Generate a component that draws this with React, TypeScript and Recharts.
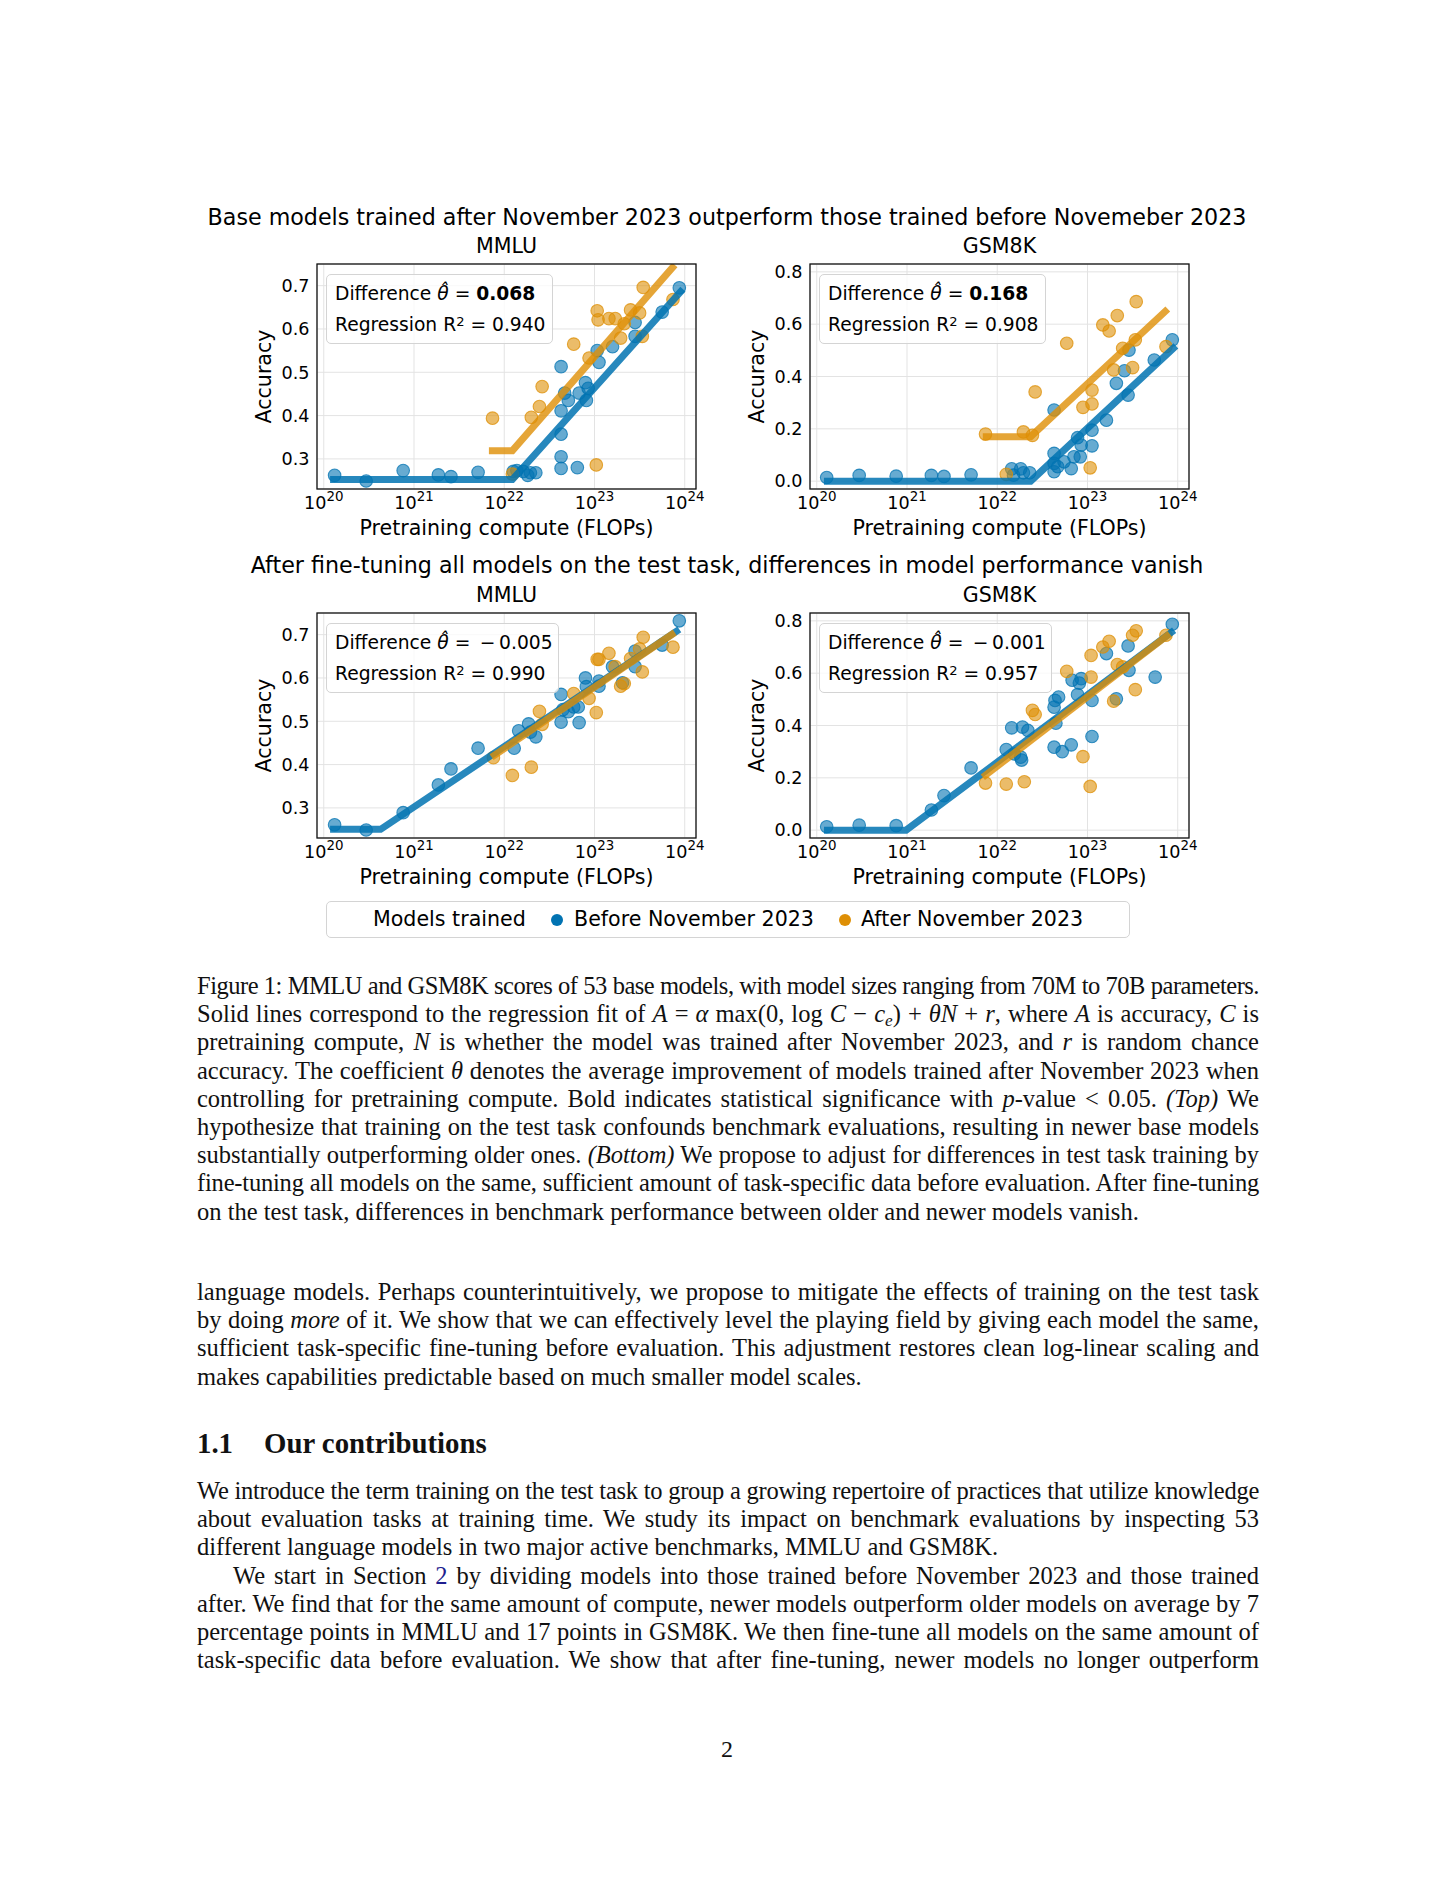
import React, { useLayoutEffect, useRef, useState } from 'react';
import { CartesianGrid, Scatter, ScatterChart, XAxis, YAxis } from 'recharts';

const BLUE = '#0173b2';
const ORANGE = '#de8f05';
const SANS = "'DejaVu Sans', sans-serif";
const SERIF = "'Liberation Serif', serif";

// [log10 pretraining FLOPs, accuracy]
type Pt = [number, number];

const computeExponents = [20, 21, 22, 23, 24];
const computeDomain = [19.925, 24.125];
const mmluTicks = [0.3, 0.4, 0.5, 0.6, 0.7];
const mmluDomain = [0.2305, 0.75];
const gsmTicks = [0, 0.2, 0.4, 0.6, 0.8];
const gsmDomain = [-0.03, 0.83];

// top row: base models
const baseMmluBefore: Pt[] = [
  [20.12, 0.262], [20.47, 0.249], [20.88, 0.273], [21.27, 0.263], [21.41, 0.259], [21.71, 0.269],
  [22.1, 0.271], [22.14, 0.273], [22.21, 0.271], [22.26, 0.262], [22.29, 0.268], [22.35, 0.268],
  [22.63, 0.513], [22.63, 0.411], [22.63, 0.357], [22.63, 0.305], [22.63, 0.278], [22.67, 0.452],
  [22.71, 0.435], [22.81, 0.28], [22.83, 0.452], [22.9, 0.476], [22.91, 0.435], [22.93, 0.463],
  [23.03, 0.55], [23.05, 0.523], [23.2, 0.559], [23.45, 0.615], [23.45, 0.583], [23.75, 0.639],
  [23.94, 0.695],
];
const baseMmluAfter: Pt[] = [
  [21.87, 0.394], [22.09, 0.265], [22.3, 0.396], [22.39, 0.421], [22.42, 0.467], [22.77, 0.565],
  [22.94, 0.533], [23.02, 0.286], [23.03, 0.642], [23.04, 0.621], [23.16, 0.624], [23.23, 0.624],
  [23.29, 0.579], [23.33, 0.612], [23.4, 0.644], [23.5, 0.637], [23.53, 0.583], [23.54, 0.696],
  [23.87, 0.668],
];
const baseMmluFitBefore: Pt[] = [[20.07, 0.2525], [22.09, 0.2525], [23.98, 0.692]];
const baseMmluFitAfter: Pt[] = [[21.83, 0.319], [22.09, 0.319], [23.89, 0.748]];

const baseGsmBefore: Pt[] = [
  [20.11, 0.014], [20.47, 0.022], [20.88, 0.019], [21.27, 0.022], [21.41, 0.018], [21.71, 0.024],
  [22.16, 0.047], [22.18, 0.023], [22.26, 0.047], [22.29, 0.032], [22.36, 0.032], [22.63, 0.272],
  [22.63, 0.106], [22.63, 0.068], [22.63, 0.036], [22.67, 0.055], [22.74, 0.074], [22.82, 0.048],
  [22.85, 0.093], [22.89, 0.166], [22.92, 0.093], [22.93, 0.138], [23.05, 0.195], [23.05, 0.135],
  [23.21, 0.233], [23.32, 0.374], [23.41, 0.422], [23.45, 0.329], [23.46, 0.501], [23.74, 0.463],
  [23.94, 0.54],
];
const baseGsmAfter: Pt[] = [
  [21.87, 0.18], [22.1, 0.026], [22.29, 0.188], [22.39, 0.175], [22.42, 0.341], [22.77, 0.527],
  [22.95, 0.282], [23.03, 0.051], [23.05, 0.348], [23.05, 0.295], [23.17, 0.597], [23.24, 0.574],
  [23.29, 0.425], [23.33, 0.633], [23.39, 0.508], [23.5, 0.434], [23.53, 0.54], [23.54, 0.686],
  [23.87, 0.514],
];
const baseGsmFitBefore: Pt[] = [[20.08, 0], [22.37, 0], [23.98, 0.517]];
const baseGsmFitAfter: Pt[] = [[21.84, 0.17], [22.37, 0.17], [23.89, 0.658]];

// bottom row: after fine-tuning on the test task
const ftMmluBefore: Pt[] = [
  [20.12, 0.261], [20.47, 0.249], [20.88, 0.289], [21.27, 0.353], [21.41, 0.39], [21.71, 0.438],
  [22.11, 0.438], [22.16, 0.478], [22.27, 0.494], [22.29, 0.475], [22.35, 0.464], [22.63, 0.562],
  [22.63, 0.498], [22.65, 0.527], [22.71, 0.522], [22.77, 0.533], [22.82, 0.533], [22.83, 0.497],
  [22.9, 0.6], [22.91, 0.58], [23.05, 0.593], [23.05, 0.581], [23.2, 0.626], [23.31, 0.589],
  [23.45, 0.662], [23.45, 0.626], [23.75, 0.676], [23.94, 0.732],
];
const ftMmluAfter: Pt[] = [
  [21.88, 0.416], [22.09, 0.375], [22.3, 0.394], [22.39, 0.523], [22.42, 0.493], [22.77, 0.564],
  [22.94, 0.553], [23.02, 0.52], [23.03, 0.643], [23.05, 0.643], [23.16, 0.657], [23.23, 0.626],
  [23.29, 0.581], [23.33, 0.587], [23.4, 0.645], [23.5, 0.667], [23.53, 0.614], [23.54, 0.694],
  [23.87, 0.671],
];
const ftMmluFitBefore: Pt[] = [[20.07, 0.2506], [20.63, 0.2506], [23.94, 0.712]];
const ftMmluFitAfter: Pt[] = [[21.86, 0.417], [23.89, 0.705]];

const ftGsmBefore: Pt[] = [
  [20.11, 0.013], [20.47, 0.019], [20.88, 0.017], [21.27, 0.077], [21.41, 0.132], [21.71, 0.238],
  [22.1, 0.308], [22.16, 0.391], [22.19, 0.291], [22.26, 0.279], [22.27, 0.268], [22.28, 0.394],
  [22.34, 0.381], [22.63, 0.317], [22.63, 0.47], [22.64, 0.496], [22.65, 0.409], [22.68, 0.509],
  [22.72, 0.3], [22.82, 0.326], [22.83, 0.573], [22.89, 0.518], [22.91, 0.562], [22.93, 0.579],
  [23.05, 0.496], [23.05, 0.358], [23.21, 0.675], [23.32, 0.502], [23.45, 0.704], [23.46, 0.611],
  [23.75, 0.585], [23.94, 0.787],
];
const ftGsmAfter: Pt[] = [
  [21.87, 0.18], [22.1, 0.176], [22.3, 0.185], [22.39, 0.458], [22.42, 0.442], [22.77, 0.607],
  [22.95, 0.281], [23.03, 0.167], [23.04, 0.668], [23.04, 0.585], [23.17, 0.7], [23.24, 0.722],
  [23.29, 0.493], [23.33, 0.633], [23.39, 0.624], [23.5, 0.745], [23.53, 0.537], [23.54, 0.762],
  [23.87, 0.745],
];
const ftGsmFitBefore: Pt[] = [[20.08, 0], [20.99, 0], [23.96, 0.764]];
const ftGsmFitAfter: Pt[] = [[21.84, 0.202], [23.91, 0.751]];

// plot box geometry
const PW = 379;
const PH = 225;
const ML = 100;
const MT = 10;
const MR = 15;
const MB = 60;

function toRows(pts: Pt[]) {
  return pts.map(([c, a]) => ({ flops: 10 ** c, acc: a }));
}

const dot = (color: string) => (p: any) => (
  <circle cx={p.cx} cy={p.cy} r={6.3} fill={color} fillOpacity={0.6} stroke={color} strokeOpacity={0.75} strokeWidth={1.1} />
);
const blank = () => <g />;

function XTick(p: any) {
  const e = Math.round(Math.log10(p.payload.value));
  return (
    <text x={p.x} y={p.y + 19.5} textAnchor="middle" fontFamily={SANS} fontSize={17.6} fill="#000">
      10<tspan dy={-8} fontSize={13.4}>{e}</tspan>
    </text>
  );
}

function YTick(p: any) {
  return (
    <text x={p.x - 7.5} y={p.y + 6.3} textAnchor="end" fontFamily={SANS} fontSize={17.6} fill="#000">
      {Number(p.payload.value).toFixed(1)}
    </text>
  );
}

// text placed by its baseline (line-height = font size)
function Txt({ x, y, fs, family = SANS, align = 'left', children, style }: any) {
  const k = family === SANS ? 0.846 : 0.8375;
  const pos: any =
    align === 'center'
      ? { left: x - 700, width: 1400, textAlign: 'center' }
      : { left: x };
  return (
    <div
      style={{
        position: 'absolute',
        top: y - k * fs,
        fontSize: fs,
        lineHeight: `${fs}px`,
        fontFamily: family,
        whiteSpace: 'nowrap',
        color: '#000',
        ...pos,
        ...style,
      }}
    >
      {children}
    </div>
  );
}

type PanelProps = {
  left: number;
  top: number;
  yTicks: number[];
  yDomain: number[];
  before: Pt[];
  after: Pt[];
  fitBefore: Pt[];
  fitAfter: Pt[];
  diff: React.ReactNode;
  r2: string;
  boxWidth: number;
};

function Panel({ left, top, yTicks, yDomain, before, after, fitBefore, fitAfter, diff, r2, boxWidth }: PanelProps) {
  const W = ML + PW + MR;
  const H = MT + PH + MB;
  return (
    <div style={{ position: 'absolute', left: left - ML, top: top - MT, width: W, height: H }}>
      <ScatterChart width={W} height={H} margin={{ top: MT, right: MR, bottom: MB - 30, left: ML - 60 }}>
        <CartesianGrid stroke="#e3e3e3" strokeWidth={1} />
        <XAxis
          type="number"
          dataKey="flops"
          scale="log"
          domain={computeDomain.map((e) => 10 ** e)}
          allowDataOverflow
          ticks={computeExponents.map((e) => 10 ** e)}
          interval={0}
          height={30}
          tickSize={0}
          tickMargin={0}
          axisLine={false}
          tickLine={false}
          tick={XTick}
          label={() => (
            <text x={ML + PW / 2} y={MT + PH + 45.5} textAnchor="middle" fontFamily={SANS} fontSize={20.6} fill="#000">
              Pretraining compute (FLOPs)
            </text>
          )}
        />
        <YAxis
          type="number"
          dataKey="acc"
          domain={yDomain}
          allowDataOverflow
          ticks={yTicks}
          interval={0}
          width={60}
          tickSize={0}
          tickMargin={0}
          axisLine={false}
          tickLine={false}
          tick={YTick}
          label={() => (
            <text
              x={0}
              y={0}
              transform={`translate(${ML - 46.5},${MT + PH / 2}) rotate(-90)`}
              textAnchor="middle"
              fontFamily={SANS}
              fontSize={20.6}
              fill="#000"
            >
              Accuracy
            </text>
          )}
        />
        <Scatter data={toRows(before)} shape={dot(BLUE)} isAnimationActive={false} />
        <Scatter data={toRows(after)} shape={dot(ORANGE)} isAnimationActive={false} />
        <Scatter
          data={toRows(fitBefore)}
          line={{ stroke: BLUE, strokeWidth: 7, strokeOpacity: 0.85 }}
          shape={blank}
          isAnimationActive={false}
        />
        <Scatter
          data={toRows(fitAfter)}
          line={{ stroke: ORANGE, strokeWidth: 7, strokeOpacity: 0.8 }}
          shape={blank}
          isAnimationActive={false}
        />
      </ScatterChart>
      <svg style={{ position: 'absolute', left: ML - 1, top: MT - 1 }} width={PW + 2} height={PH + 2}>
        <rect x={1} y={1} width={PW} height={PH} fill="none" stroke="#111" strokeWidth={1.3} />
      </svg>
      <div
        style={{
          position: 'absolute',
          left: ML + 9,
          top: MT + 10,
          width: boxWidth,
          height: 70,
          boxSizing: 'border-box',
          border: '1px solid #d4d4d4',
          borderRadius: 5,
          background: 'rgba(255,255,255,0.8)',
        }}
      >
        <Txt x={8} y={26} fs={18.7}>{diff}</Txt>
        <Txt x={8} y={57} fs={18.7}>
          Regression R
          <span style={{ position: 'relative', top: '-0.42em', fontSize: '0.7em' }}>2</span>
          {' = '}
          {r2}
        </Txt>
      </div>
    </div>
  );
}

const theta = (
  <span style={{ fontStyle: 'italic' }}>
    θ{'\u0302'}
  </span>
);

// one justified line of running text; tightens letter spacing when the line is too long
function SerifLine({ y, children, justify = true, indent = 0 }: any) {
  const fs = 24.5;
  const ref = useRef<HTMLDivElement>(null);
  const [tight, setTight] = useState(0);
  useLayoutEffect(() => {
    const el = ref.current;
    if (!el) return;
    const over = el.scrollWidth - el.clientWidth;
    if (over > 0) {
      const chars = (el.textContent || '').trim().length;
      setTight((t) => t - (over + 3) / Math.max(chars, 1));
    }
  }, [tight]);
  return (
    <div
      ref={ref}
      style={{
        position: 'absolute',
        left: 197 + indent,
        width: 1062 - indent,
        top: y - 0.8375 * fs,
        fontSize: fs,
        lineHeight: `${fs}px`,
        fontFamily: SERIF,
        whiteSpace: 'nowrap',
        color: '#111',
        letterSpacing: tight,
        textAlign: justify ? 'justify' : 'left',
        textAlignLast: justify ? 'justify' : 'left',
      }}
    >
      {children}
    </div>
  );
}

const I = ({ children }: any) => <span style={{ fontStyle: 'italic' }}>{children}</span>;

export default function App() {
  const cap0 = 994.5;
  const body0 = 1300.5;
  const para0 = 1499.5;
  const ls = 28.2;
  return (
    <div style={{ position: 'absolute', left: 0, top: 0, width: 1456, height: 1884, background: '#fff', overflow: 'hidden' }}>
      <Txt x={727} y={225} fs={22.2} align="center">
        Base models trained after November 2023 outperform those trained before Novemeber 2023
      </Txt>
      <Txt x={317 + PW / 2} y={253.3} fs={20.6} align="center">MMLU</Txt>
      <Txt x={810 + PW / 2} y={253.3} fs={20.6} align="center">GSM8K</Txt>
      <Panel
        left={317}
        top={264}
        yTicks={mmluTicks}
        yDomain={mmluDomain}
        before={baseMmluBefore}
        after={baseMmluAfter}
        fitBefore={baseMmluFitBefore}
        fitAfter={baseMmluFitAfter}
        diff={<>Difference {theta} = <b>0.068</b></>}
        r2="0.940"
        boxWidth={227}
      />
      <Panel
        left={810}
        top={264}
        yTicks={gsmTicks}
        yDomain={gsmDomain}
        before={baseGsmBefore}
        after={baseGsmAfter}
        fitBefore={baseGsmFitBefore}
        fitAfter={baseGsmFitAfter}
        diff={<>Difference {theta} = <b>0.168</b></>}
        r2="0.908"
        boxWidth={227}
      />

      <Txt x={727} y={572.7} fs={22.2} align="center">
        After fine-tuning all models on the test task, differences in model performance vanish
      </Txt>
      <Txt x={317 + PW / 2} y={602.3} fs={20.6} align="center">MMLU</Txt>
      <Txt x={810 + PW / 2} y={602.3} fs={20.6} align="center">GSM8K</Txt>
      <Panel
        left={317}
        top={613}
        yTicks={mmluTicks}
        yDomain={mmluDomain}
        before={ftMmluBefore}
        after={ftMmluAfter}
        fitBefore={ftMmluFitBefore}
        fitAfter={ftMmluFitAfter}
        diff={<>Difference {theta} ={'\u2002'}−{'\u2009'}0.005</>}
        r2="0.990"
        boxWidth={233}
      />
      <Panel
        left={810}
        top={613}
        yTicks={gsmTicks}
        yDomain={gsmDomain}
        before={ftGsmBefore}
        after={ftGsmAfter}
        fitBefore={ftGsmFitBefore}
        fitAfter={ftGsmFitAfter}
        diff={<>Difference {theta} ={'\u2002'}−{'\u2009'}0.001</>}
        r2="0.957"
        boxWidth={233}
      />

      {/* shared legend */}
      <div
        style={{
          position: 'absolute',
          left: 326,
          top: 901,
          width: 804,
          height: 37,
          boxSizing: 'border-box',
          border: '1px solid #d4d4d4',
          borderRadius: 5,
        }}
      >
        <Txt x={372 - 326} y={24} fs={20.6}>Models trained</Txt>
        <div style={{ position: 'absolute', left: 556 - 326 - 6, top: 18 - 6, width: 12, height: 12, borderRadius: 6, background: BLUE }} />
        <Txt x={573 - 326} y={24} fs={20.6}>Before November 2023</Txt>
        <div style={{ position: 'absolute', left: 844 - 326 - 6, top: 18 - 6, width: 12, height: 12, borderRadius: 6, background: ORANGE }} />
        <Txt x={860 - 326} y={24} fs={20.6}>After November 2023</Txt>
      </div>

      {/* caption */}
      <SerifLine y={cap0}>
        Figure 1: MMLU and GSM8K scores of 53 base models, with model sizes ranging from 70M to 70B parameters.
      </SerifLine>
      <SerifLine y={cap0 + ls}>
        Solid lines correspond to the regression fit of <I>A</I> = <I>α</I> max(0, log <I>C</I> − <I>c</I>
        <span style={{ position: 'relative', top: '0.25em', fontSize: '0.7em', fontStyle: 'italic' }}>e</span>) + <I>θN</I> + <I>r</I>,
        where <I>A</I> is accuracy, <I>C</I> is
      </SerifLine>
      <SerifLine y={cap0 + 2 * ls}>
        pretraining compute, <I>N</I> is whether the model was trained after November 2023, and <I>r</I> is random chance
      </SerifLine>
      <SerifLine y={cap0 + 3 * ls}>
        accuracy. The coefficient <I>θ</I> denotes the average improvement of models trained after November 2023 when
      </SerifLine>
      <SerifLine y={cap0 + 4 * ls}>
        controlling for pretraining compute. Bold indicates statistical significance with <I>p</I>-value &lt; 0.05. <I>(Top)</I> We
      </SerifLine>
      <SerifLine y={cap0 + 5 * ls}>
        hypothesize that training on the test task confounds benchmark evaluations, resulting in newer base models
      </SerifLine>
      <SerifLine y={cap0 + 6 * ls}>
        substantially outperforming older ones. <I>(Bottom)</I> We propose to adjust for differences in test task training by
      </SerifLine>
      <SerifLine y={cap0 + 7 * ls}>
        fine-tuning all models on the same, sufficient amount of task-specific data before evaluation. After fine-tuning
      </SerifLine>
      <SerifLine y={cap0 + 8 * ls} justify={false}>
        on the test task, differences in benchmark performance between older and newer models vanish.
      </SerifLine>

      {/* body */}
      <SerifLine y={body0}>
        language models. Perhaps counterintuitively, we propose to mitigate the effects of training on the test task
      </SerifLine>
      <SerifLine y={body0 + ls}>
        by doing <I>more</I> of it. We show that we can effectively level the playing field by giving each model the same,
      </SerifLine>
      <SerifLine y={body0 + 2 * ls}>
        sufficient task-specific fine-tuning before evaluation. This adjustment restores clean log-linear scaling and
      </SerifLine>
      <SerifLine y={body0 + 3 * ls} justify={false}>
        makes capabilities predictable based on much smaller model scales.
      </SerifLine>

      <Txt x={197} y={1453.3} fs={28.8} family={SERIF} style={{ fontWeight: 'bold', color: '#111' }}>1.1</Txt>
      <Txt x={264} y={1453.3} fs={28.8} family={SERIF} style={{ fontWeight: 'bold', color: '#111' }}>Our contributions</Txt>

      <SerifLine y={para0}>
        We introduce the term training on the test task to group a growing repertoire of practices that utilize knowledge
      </SerifLine>
      <SerifLine y={para0 + ls}>
        about evaluation tasks at training time. We study its impact on benchmark evaluations by inspecting 53
      </SerifLine>
      <SerifLine y={para0 + 2 * ls} justify={false}>
        different language models in two major active benchmarks, MMLU and GSM8K.
      </SerifLine>
      <SerifLine y={para0 + 3 * ls} indent={36}>
        We start in Section <span style={{ color: '#1f1f8f' }}>2</span> by dividing models into those trained before November 2023 and those trained
      </SerifLine>
      <SerifLine y={para0 + 4 * ls}>
        after. We find that for the same amount of compute, newer models outperform older models on average by 7
      </SerifLine>
      <SerifLine y={para0 + 5 * ls}>
        percentage points in MMLU and 17 points in GSM8K. We then fine-tune all models on the same amount of
      </SerifLine>
      <SerifLine y={para0 + 6 * ls}>
        task-specific data before evaluation. We show that after fine-tuning, newer models no longer outperform
      </SerifLine>

      <Txt x={727} y={1757.3} fs={24} family={SERIF} align="center" style={{ color: '#111' }}>2</Txt>
    </div>
  );
}
